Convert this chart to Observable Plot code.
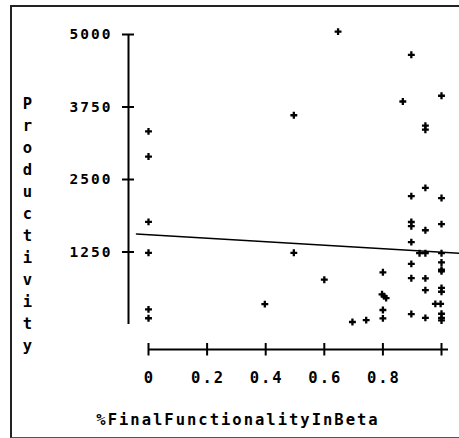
<!DOCTYPE html>
<html><head><meta charset="utf-8">
<script src="https://cdn.jsdelivr.net/npm/d3@7"></script>
<script src="https://cdn.jsdelivr.net/npm/@observablehq/plot@0.6"></script>
<style>
body{margin:0;background:#fff;}
#wrap{position:relative;width:459px;height:438px;overflow:hidden;}
#wrap svg{position:absolute;left:0;top:0;}
#border{position:absolute;left:10px;top:5px;width:470px;height:430px;border-top:2px solid #222;border-left:2px solid #222;border-bottom:1px solid #555;pointer-events:none;}
</style></head><body><div id="wrap"><div id="border"></div></div>
<script>
const beta = [0, 0, 0, 0, 0, 0,
  0.397, 0.496, 0.496, 0.6, 0.647, 0.696, 0.743,
  0.8, 0.797, 0.804, 0.811, 0.8, 0.8,
  0.868,
  0.897, 0.897, 0.897, 0.897, 0.897, 0.897, 0.897, 0.897,
  0.945, 0.945, 0.945, 0.945, 0.925, 0.945, 0.945, 0.945, 0.945,
  1, 1, 1, 1, 1, 1, 1, 1, 1, 0.979, 0.997, 1, 1, 1];
const productivity = [3330, 2896, 1770, 1236, 260, 108,
  351, 3608, 1236, 772, 5050, 43, 75,
  900, 521, 490, 455, 250, 105,
  3845,
  4650, 2213, 1767, 1695, 1420, 1045, 798, 180,
  3429, 3359, 2355, 1625, 1229, 1229, 795, 592, 115,
  3944, 2180, 1730, 1229, 1070, 945, 918, 630, 565, 356, 356, 185, 115, 70];
const fitBeta = [-0.041, 1.061];
const fitProductivity = [1562, 1226];
const xTicks = [0, 0.2, 0.4, 0.6, 0.8, 1];
const xTickLabels = ["0", "0.2", "0.4", "0.6", "0.8", ""];
const yTicks = [1250, 2500, 3750, 5000];
const yTickLabels = ["1250", "2500", "3750", "5000"];
const xTitle = "%FinalFunctionalityInBeta";
const yTitle = "Productivity";

const points = beta.map((b, i) => ({beta: b, productivity: productivity[i]}));
const fit = fitBeta.map((b, i) => ({beta: b, productivity: fitProductivity[i]}));

const chart = Plot.plot({
  width: 459, height: 438,
  marginLeft: 148, marginRight: 18, marginTop: 34, marginBottom: 114,
  style: {fontFamily: '"DejaVu Sans Mono", monospace', fontSize: "15px", fontWeight: "bold", color: "#000", background: "transparent", overflow: "visible", letterSpacing: "2px"},
  x: {domain: [0, 1], axis: null},
  y: {domain: [0, 5000], axis: null},
  marks: [
    Plot.ruleX([0], {dx: -20, stroke: "#000", strokeWidth: 2}),
    Plot.axisY(yTicks, {anchor: "left", tickSize: 12, dx: -14, strokeWidth: 2, tickFormat: () => "", label: null}),
    Plot.axisY(yTicks, {anchor: "left", tickSize: 0, tickPadding: 0, dx: -36, fontSize: 14.5, tickFormat: d => yTickLabels[yTicks.indexOf(d)], label: null}),
    Plot.ruleY([0], {dy: 25, insetRight: -7, stroke: "#000", strokeWidth: 2}),
    Plot.axisX(xTicks, {anchor: "bottom", tickSize: 12.5, dy: 19, strokeWidth: 2, tickFormat: () => "", label: null}),
    Plot.axisX(xTicks, {anchor: "bottom", tickSize: 0, tickPadding: 0, dy: 47, dx: 1, fontSize: 15.5, tickFormat: d => xTickLabels[xTicks.indexOf(d)], label: null}),
    Plot.line(fit, {x: "beta", y: "productivity", stroke: "#000", strokeWidth: 1.5}),
    Plot.dot(points, {x: "beta", y: "productivity", symbol: "cross", r: 2.9, fill: "#000", stroke: "none"}),
    Plot.text([yTitle], {frameAnchor: "left", text: d => d.split("").join("\n"), lineHeight: 1.42, dx: -120, dy: 43, textAnchor: "middle", lineAnchor: "middle", fontSize: 15.5}),
    Plot.text([xTitle], {frameAnchor: "bottom", dx: -57, dy: 96, textAnchor: "middle", lineAnchor: "middle", fontSize: 15.5})
  ]
});
document.getElementById("wrap").prepend(chart);
</script>
</body></html>
